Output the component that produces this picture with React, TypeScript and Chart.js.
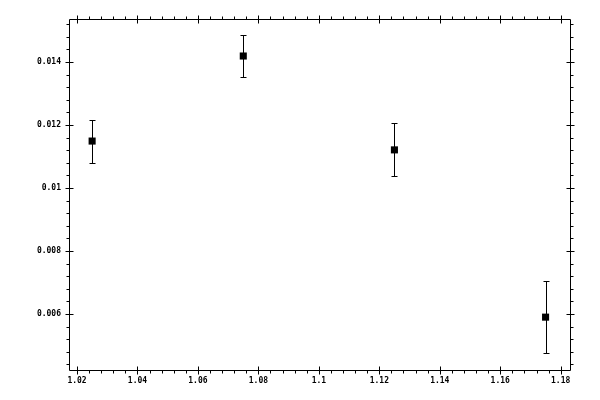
import { useEffect, useRef } from 'react';
import { Chart, registerables } from 'chart.js';

Chart.register(...registerables);

// measured points with lower / upper error bounds
const xValues = [1.025, 1.075, 1.125, 1.175];
const yValues = [0.01149, 0.01419, 0.01121, 0.0059];
const yLow = [0.0108, 0.01352, 0.01039, 0.00476];
const yHigh = [0.01216, 0.01487, 0.01206, 0.00705];

const xTicks = [1.02, 1.04, 1.06, 1.08, 1.1, 1.12, 1.14, 1.16, 1.18];
const yTicks = [0.006, 0.008, 0.01, 0.012, 0.014];

const fmt = (v: number) => String(parseFloat(v.toFixed(5)));

// frame, ticks on all four sides and error bars
const framePlugin = {
  id: 'frame',
  afterDatasetsDraw(chart: any) {
    const { ctx, chartArea: a, scales } = chart;
    const xs = scales.x;
    const ys = scales.y;
    const L = Math.round(a.left) + 0.5;
    const R = Math.round(a.right) + 0.5;
    const T = Math.round(a.top) + 0.5;
    const B = Math.round(a.bottom) + 0.5;
    ctx.save();
    ctx.strokeStyle = '#000';
    ctx.lineWidth = 1;
    ctx.beginPath();
    ctx.rect(L, T, R - L, B - T);

    const minors = (major: number[], min: number, max: number) => {
      const step = (major[1] - major[0]) / 5;
      const out: number[] = [];
      for (let v = major[0] - step * 5; v <= max + 1e-12; v += step) {
        if (v >= min - 1e-12) out.push(v);
      }
      return out;
    };

    minors(xTicks, xs.min, xs.max).forEach((v) => {
      const p = Math.round(xs.getPixelForValue(v)) + 0.5;
      ctx.moveTo(p, B); ctx.lineTo(p, B + 3);
      ctx.moveTo(p, T); ctx.lineTo(p, T - 3);
    });
    xTicks.forEach((v) => {
      const p = Math.round(xs.getPixelForValue(v)) + 0.5;
      ctx.moveTo(p, B - 4); ctx.lineTo(p, B + 4);
      ctx.moveTo(p, T - 4); ctx.lineTo(p, T + 4);
    });
    minors(yTicks, ys.min, ys.max).forEach((v) => {
      const p = Math.round(ys.getPixelForValue(v)) + 0.5;
      ctx.moveTo(L, p); ctx.lineTo(L - 3, p);
      ctx.moveTo(R, p); ctx.lineTo(R + 3, p);
    });
    yTicks.forEach((v) => {
      const p = Math.round(ys.getPixelForValue(v)) + 0.5;
      ctx.moveTo(L - 4, p); ctx.lineTo(L + 4, p);
      ctx.moveTo(R - 4, p); ctx.lineTo(R + 4, p);
    });

    xValues.forEach((x, i) => {
      const px = Math.round(xs.getPixelForValue(x)) + 0.5;
      const lo = Math.round(ys.getPixelForValue(yLow[i])) + 0.5;
      const hi = Math.round(ys.getPixelForValue(yHigh[i])) + 0.5;
      ctx.moveTo(px, lo); ctx.lineTo(px, hi);
      ctx.moveTo(px - 3, lo); ctx.lineTo(px + 3, lo);
      ctx.moveTo(px - 3, hi); ctx.lineTo(px + 3, hi);
    });
    ctx.stroke();
    ctx.restore();
  },
};

export default function App() {
  const canvasRef = useRef<HTMLCanvasElement | null>(null);
  const chartRef = useRef<Chart | null>(null);

  useEffect(() => {
    if (!canvasRef.current) return;
    if (chartRef.current) chartRef.current.destroy();

    const tickFont = { family: 'DejaVu Sans Mono', size: 8, weight: 'bold' as const };

    chartRef.current = new Chart(canvasRef.current, {
      type: 'scatter',
      data: {
        datasets: [{
          data: xValues.map((x, i) => ({ x, y: yValues[i] })),
          pointStyle: 'rect',
          pointRadius: 5,
          backgroundColor: '#000',
          borderWidth: 0,
        }],
      },
      options: {
        animation: false,
        responsive: true,
        maintainAspectRatio: false,
        layout: { padding: { top: 19, right: 30, left: 0, bottom: 0 } },
        plugins: { legend: { display: false }, tooltip: { enabled: false } },
        scales: {
          x: {
            type: 'linear',
            min: 1.01735,
            max: 1.18308,
            grid: { display: false, drawTicks: false, tickLength: 0 },
            border: { display: false },
            ticks: { color: '#000', font: tickFont, padding: 6, maxRotation: 0, callback: (v: any) => fmt(Number(v)) },
            afterBuildTicks: (s: any) => { s.ticks = xTicks.map((value) => ({ value })); },
            afterFit: (s: any) => { s.height = 30; },
          },
          y: {
            type: 'linear',
            min: 0.004222,
            max: 0.015365,
            grid: { display: false, drawTicks: false, tickLength: 0 },
            border: { display: false },
            ticks: { color: '#000', font: tickFont, padding: 8, callback: (v: any) => fmt(Number(v)) },
            afterBuildTicks: (s: any) => { s.ticks = yTicks.map((value) => ({ value })); },
            afterFit: (s: any) => { s.width = 69; },
          },
        },
      },
      plugins: [framePlugin],
    });

    return () => {
      if (chartRef.current) {
        chartRef.current.destroy();
        chartRef.current = null;
      }
    };
  }, []);

  return (
    <div style={{ position: 'absolute', left: 0, top: 0, width: 600, height: 400, background: '#fff' }}>
      <canvas ref={canvasRef}></canvas>
    </div>
  );
}
